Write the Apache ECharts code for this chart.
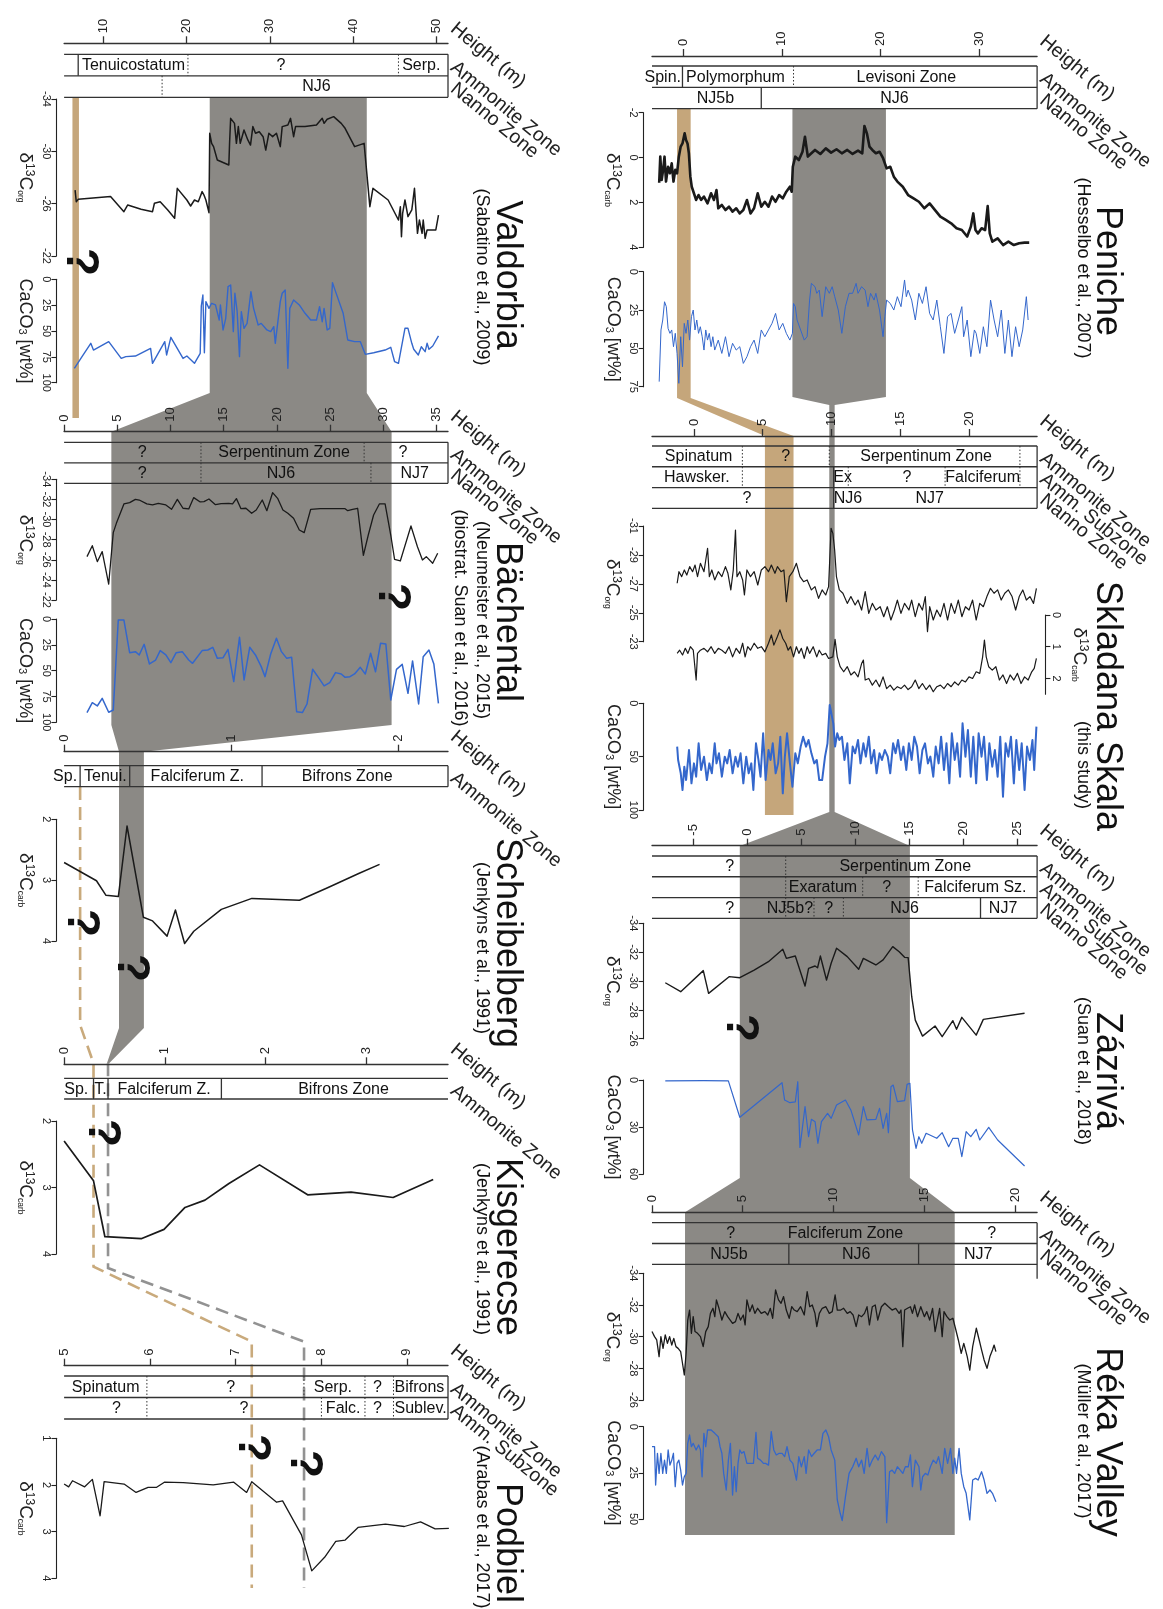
<!DOCTYPE html>
<html><head><meta charset="utf-8">
<script src="https://cdn.jsdelivr.net/npm/echarts@6/dist/echarts.min.js"></script>
<style>html,body{margin:0;padding:0;background:#fff}#c{width:1163px;height:1609px}</style>
</head><body><div id="c"></div>
<script>
// ================= DATA (heights in m, values in permil or wt%) =================
const penicheHeightTicks=[0,10,20,30];
const skladanaHeightTicks=[0,5,10,15,20];
const zazrivaHeightTicks=[-5,0,5,10,15,20,25];
const rekaHeightTicks=[0,5,10,15,20];
const valdorbiaHeightTicks=[10,20,30,40,50];
const bachentalHeightTicks=[0,5,10,15,20,25,30,35];
const scheibelbergHeightTicks=[0,1,2];
const kisgerecseHeightTicks=[0,1,2,3];
const podbielHeightTicks=[5,6,7,8,9];

const penicheD13CTicks=[-2,0,2,4];
const penicheCaCO3Ticks=[0,25,50,75];
const skladanaD13CorgTicks=[-31,-29,-27,-25,-23];
const skladanaD13CcarbTicks=[0,1,2];
const skladanaCaCO3Ticks=[0,50,100];
const zazrivaD13CTicks=[-34,-32,-30,-28,-26];
const zazrivaCaCO3Ticks=[0,30,60];
const rekaD13CTicks=[-34,-32,-30,-28,-26];
const rekaCaCO3Ticks=[0,25,50];
const valdorbiaD13CTicks=[-34,-30,-26,-22];
const valdorbiaCaCO3Ticks=[0,25,50,75,100];
const bachentalD13CTicks=[-34,-32,-30,-28,-26,-24,-22];
const bachentalCaCO3Ticks=[0,25,50,75,100];
const scheibelbergD13CTicks=[2,3,4];
const kisgerecseD13CTicks=[2,3,4];
const podbielD13CTicks=[1,2,3,4];

const penicheD13C=[[-2.43,1.12],[-2.32,-0.04],[-2.18,1.00],[-2.03,0.55],[-1.89,-0.04],[-1.74,1.07],[-1.53,0.41],[-1.34,0.70],[-1.16,0.26],[-0.98,1.07],[-0.80,0.55],[-0.62,0.70],[-0.44,-0.04],[-0.25,-0.49],[-0.07,-0.63],[0.15,-1.08],[0.29,-0.78],[0.44,-0.63],[0.58,-0.19],[0.73,0.85],[0.87,1.30],[1.09,1.59],[1.31,1.89],[1.56,1.67],[1.82,1.89],[2.11,1.74],[2.47,2.04],[2.83,1.59],[3.12,1.89],[3.38,1.45],[3.56,2.26],[3.92,2.11],[4.29,2.34],[4.65,2.19],[5.01,2.41],[5.38,2.26],[5.74,2.49],[6.10,2.34],[6.47,1.89],[6.83,2.49],[7.19,2.26],[7.56,1.59],[7.92,2.19],[8.28,1.97],[8.65,2.19],[9.01,1.74],[9.37,1.97],[9.73,1.67],[10.10,1.82],[10.46,1.52],[10.82,1.30],[11.01,1.52],[11.12,0.41],[11.37,-0.04],[11.73,0.11],[12.10,-0.26],[12.35,-0.93],[12.64,-0.04],[13.00,-0.19],[13.37,-0.34],[13.91,-0.16],[14.46,-0.41],[15.00,-0.22],[15.55,-0.37],[16.09,-0.19],[16.64,-0.34],[17.18,-0.16],[17.73,-0.31],[18.16,-0.19],[18.38,-1.41],[18.63,-1.08],[18.89,-0.49],[19.18,-0.34],[19.54,-0.19],[19.91,-0.26],[20.27,0.03],[20.63,0.48],[21.00,0.41],[21.36,0.85],[21.72,1.07],[22.27,1.30],[22.81,1.67],[23.36,1.82],[23.90,1.97],[24.45,2.26],[24.99,2.04],[25.54,2.34],[26.08,2.63],[26.63,2.78],[27.17,2.93],[27.72,3.15],[28.26,3.23],[28.80,3.52],[29.17,3.08],[29.42,2.49],[29.64,3.23],[29.89,3.38],[30.26,3.15],[30.62,3.23],[30.88,2.16],[31.09,3.38],[31.35,3.75],[31.89,3.60],[32.44,3.90],[32.98,3.75],[33.53,3.90],[34.07,3.82],[34.62,3.79],[35.09,3.79]];

const penicheCaCO3=[[-2.43,71.7],[-2.25,38.0],[-2.07,31.5],[-1.89,19.6],[-1.71,22.8],[-1.53,37.0],[-1.34,40.2],[-1.16,38.0],[-0.98,48.9],[-0.80,40.2],[-0.62,53.3],[-0.44,72.8],[-0.25,42.4],[-0.07,62.0],[0.11,33.7],[0.29,40.2],[0.47,31.5],[0.65,44.6],[0.84,29.3],[1.02,25.0],[1.20,38.0],[1.38,31.5],[1.56,40.2],[1.74,35.9],[1.93,42.4],[2.11,51.1],[2.29,38.0],[2.47,44.6],[2.65,40.2],[2.83,48.9],[3.01,42.4],[3.20,51.1],[3.56,44.6],[3.92,53.3],[4.29,42.4],[4.65,55.4],[5.01,46.7],[5.38,51.1],[5.74,48.9],[6.10,59.8],[6.47,55.4],[6.83,48.9],[7.19,44.6],[7.56,53.3],[7.92,38.0],[8.28,42.4],[8.65,38.0],[9.01,33.7],[9.37,27.2],[9.73,38.0],[10.10,33.7],[10.46,40.2],[10.82,44.6],[11.08,40.2],[11.19,20.7],[11.37,22.8],[11.55,31.5],[11.91,38.0],[12.28,44.6],[12.57,42.4],[12.82,18.5],[13.00,7.6],[13.37,9.8],[13.55,14.1],[13.80,12.0],[14.09,29.3],[14.46,9.8],[14.82,14.1],[15.11,9.8],[15.37,16.3],[15.73,25.0],[16.09,40.2],[16.45,22.8],[16.82,14.1],[17.18,14.1],[17.54,7.6],[17.73,14.1],[18.09,9.8],[18.45,12.0],[18.74,22.8],[19.00,14.1],[19.36,18.5],[19.54,14.1],[19.91,25.0],[20.27,42.4],[20.45,29.3],[20.63,18.5],[21.00,20.7],[21.36,25.0],[21.72,16.3],[22.09,22.8],[22.45,5.4],[22.63,16.3],[22.81,12.0],[23.17,18.5],[23.54,31.5],[23.90,14.1],[24.26,20.7],[24.63,9.8],[24.99,27.2],[25.35,31.5],[25.72,18.5],[26.08,35.9],[26.44,53.3],[26.81,29.3],[27.17,27.2],[27.53,40.2],[27.90,31.5],[28.26,22.8],[28.44,42.4],[28.80,31.5],[29.17,55.4],[29.53,38.0],[29.71,40.2],[30.08,53.3],[30.44,35.9],[30.80,48.9],[31.17,18.5],[31.53,31.5],[31.89,42.4],[32.26,25.0],[32.62,53.3],[32.98,31.5],[33.34,55.4],[33.71,35.9],[34.07,48.9],[34.43,38.0],[34.80,16.3],[34.98,31.5]];

const skladanaD13Corg=[[-1.22,-27.04],[-1.09,-27.84],[-0.89,-27.50],[-0.70,-27.96],[-0.52,-27.61],[-0.31,-28.19],[-0.10,-27.84],[0.08,-28.30],[0.26,-27.50],[0.47,-28.42],[0.73,-27.84],[0.99,-29.46],[1.12,-27.50],[1.30,-27.96],[1.51,-27.27],[1.77,-27.84],[2.03,-27.50],[2.29,-28.19],[2.47,-27.73],[2.68,-26.58],[2.86,-27.96],[3.02,-30.72],[3.13,-27.50],[3.33,-27.84],[3.54,-27.27],[3.67,-26.23],[3.85,-27.96],[4.11,-27.50],[4.38,-27.84],[4.64,-26.92],[4.90,-27.96],[5.16,-28.19],[5.42,-27.84],[5.63,-28.30],[5.89,-27.73],[6.07,-28.19],[6.33,-27.84],[6.54,-27.96],[6.72,-25.77],[6.93,-27.50],[7.19,-27.84],[7.45,-28.42],[7.71,-27.50],[7.97,-27.15],[8.23,-27.27],[8.54,-26.58],[8.80,-26.81],[9.06,-26.00],[9.32,-26.58],[9.58,-26.23],[9.79,-26.81],[9.97,-30.84],[10.10,-30.49],[10.23,-29.34],[10.36,-27.50],[10.57,-26.58],[10.83,-26.35],[11.15,-25.65],[11.41,-26.12],[11.72,-25.54],[11.93,-25.88],[12.19,-25.19],[12.45,-26.46],[12.71,-24.96],[12.97,-25.65],[13.23,-25.19],[13.54,-25.42],[13.80,-24.73],[14.06,-25.42],[14.32,-24.50],[14.58,-25.19],[14.79,-25.88],[15.05,-24.96],[15.31,-25.65],[15.63,-25.19],[15.83,-25.88],[16.09,-24.73],[16.35,-25.65],[16.61,-25.19],[16.82,-26.12],[16.98,-23.70],[17.14,-25.42],[17.40,-24.50],[17.66,-25.19],[17.92,-24.73],[18.18,-25.65],[18.44,-24.50],[18.70,-25.65],[18.96,-24.96],[19.22,-25.88],[19.48,-24.73],[19.74,-25.42],[20.00,-25.19],[20.26,-25.88],[20.52,-24.50],[20.78,-25.65],[21.04,-25.42],[21.30,-26.12],[21.56,-26.69],[21.82,-26.35],[22.08,-26.58],[22.34,-25.88],[22.60,-26.35],[22.86,-26.58],[23.13,-26.12],[23.39,-25.19],[23.65,-26.12],[23.91,-26.58],[24.17,-25.88],[24.43,-26.12],[24.69,-25.65],[24.90,-26.69]];

const skladanaD13Ccarb=[[-1.22,1.21],[-1.04,1.11],[-0.83,1.26],[-0.63,1.05],[-0.44,1.21],[-0.26,1.00],[-0.05,1.11],[0.16,2.05],[0.26,1.21],[0.47,1.11],[0.73,1.05],[0.99,1.16],[1.25,1.00],[1.51,1.21],[1.77,1.05],[2.03,1.11],[2.29,1.21],[2.55,1.00],[2.81,1.32],[3.07,1.05],[3.33,1.21],[3.54,0.89],[3.72,1.32],[3.91,1.00],[4.11,1.11],[4.38,0.89],[4.64,1.05],[4.90,1.00],[5.16,1.16],[5.42,0.89],[5.63,0.63],[5.81,0.95],[6.07,0.68],[6.25,0.47],[6.46,0.74],[6.67,0.89],[6.85,1.11],[7.03,1.00],[7.24,1.32],[7.45,1.00],[7.63,1.21],[7.81,1.05],[8.02,1.37],[8.23,1.00],[8.41,1.21],[8.67,1.00],[8.93,1.32],[9.11,1.11],[9.32,1.26],[9.58,1.21],[9.79,1.37],[10.10,1.32],[10.26,0.77],[10.42,1.32],[10.63,1.63],[10.89,1.79],[11.15,1.63],[11.41,1.89],[11.67,1.79],[11.93,1.95],[12.19,1.53],[12.32,1.42],[12.45,2.05],[12.71,2.00],[12.97,2.21],[13.23,2.05],[13.49,2.26],[13.75,1.95],[14.01,2.32],[14.27,2.21],[14.53,2.37],[14.79,2.26],[15.05,2.32],[15.31,2.21],[15.57,2.35],[15.83,2.26],[16.09,2.05],[16.35,2.32],[16.61,2.16],[16.88,2.35],[17.14,2.21],[17.40,2.42],[17.66,2.26],[17.92,2.21],[18.18,2.32],[18.44,2.16],[18.70,2.26],[18.96,2.11],[19.22,2.21],[19.48,2.05],[19.74,2.11],[20.00,1.95],[20.26,2.00],[20.52,1.79],[20.78,1.84],[20.99,1.32],[21.12,0.79],[21.25,1.32],[21.43,1.63],[21.69,1.74],[21.95,1.63],[22.21,2.05],[22.47,1.89],[22.73,2.16],[22.99,1.89],[23.26,2.05],[23.52,1.84],[23.78,2.16],[24.04,1.95],[24.30,2.05],[24.56,1.79],[24.74,1.68],[24.90,1.37]];

const skladanaCaCO3=[[-1.22,40.6],[-1.15,53.1],[-0.96,65.6],[-0.83,81.3],[-0.70,59.4],[-0.57,71.9],[-0.36,43.8],[-0.18,75.0],[0.00,56.3],[0.16,68.8],[0.34,37.5],[0.52,62.5],[0.73,50.0],[0.94,71.9],[1.12,56.3],[1.30,65.6],[1.51,37.5],[1.64,56.3],[1.82,46.9],[2.03,68.8],[2.24,50.0],[2.42,56.3],[2.60,43.8],[2.81,65.6],[3.02,50.0],[3.20,59.4],[3.39,46.9],[3.59,75.0],[3.80,50.0],[3.98,65.6],[4.17,56.3],[4.32,81.3],[4.51,37.5],[4.69,53.1],[4.84,68.8],[5.03,28.1],[5.21,71.9],[5.42,43.8],[5.57,53.1],[5.73,37.5],[5.94,65.6],[6.12,56.3],[6.28,31.3],[6.46,84.4],[6.61,50.0],[6.77,28.1],[6.98,56.3],[7.16,78.1],[7.37,46.9],[7.55,56.3],[7.76,40.6],[7.94,31.3],[8.15,40.6],[8.33,34.4],[8.54,46.9],[8.75,56.3],[8.93,53.1],[9.11,71.9],[9.32,71.9],[9.53,50.0],[9.71,37.5],[9.87,1.6],[10.00,0.0],[10.13,18.8],[10.26,40.6],[10.42,28.1],[10.57,34.4],[10.76,31.3],[10.94,53.1],[11.15,37.5],[11.33,75.0],[11.54,40.6],[11.72,46.9],[11.93,34.4],[12.11,56.3],[12.32,37.5],[12.50,50.0],[12.71,31.3],[12.89,56.3],[13.10,43.8],[13.28,65.6],[13.49,46.9],[13.67,53.1],[13.88,43.8],[14.09,50.0],[14.27,65.6],[14.48,37.5],[14.66,46.9],[14.84,34.4],[15.05,53.1],[15.23,40.6],[15.44,62.5],[15.63,37.5],[15.83,53.1],[16.02,31.3],[16.22,40.6],[16.41,65.6],[16.61,43.8],[16.80,37.5],[17.01,56.3],[17.19,50.0],[17.40,68.8],[17.58,40.6],[17.79,56.3],[17.97,31.3],[18.18,62.5],[18.36,37.5],[18.57,75.0],[18.75,28.1],[18.96,53.1],[19.14,37.5],[19.35,68.8],[19.53,18.8],[19.74,50.0],[19.92,25.0],[20.13,68.8],[20.31,31.3],[20.52,75.0],[20.70,28.1],[20.91,50.0],[21.09,31.3],[21.30,71.9],[21.48,37.5],[21.69,59.4],[21.88,43.8],[22.08,68.8],[22.27,31.3],[22.47,87.5],[22.66,37.5],[22.86,50.0],[23.05,31.3],[23.26,75.0],[23.44,34.4],[23.65,62.5],[23.83,37.5],[24.04,81.3],[24.22,40.6],[24.43,53.1],[24.61,34.4],[24.74,62.5],[24.90,21.9]];

const zazrivaD13C=[[-7.63,-29.88],[-6.20,-29.26],[-4.11,-30.72],[-3.62,-29.14],[-1.72,-30.30],[-0.73,-30.23],[0.60,-30.76],[1.92,-31.34],[3.25,-32.20],[3.58,-31.57],[4.41,-31.73],[5.31,-29.65],[5.64,-30.88],[6.24,-31.04],[6.47,-30.92],[6.73,-31.73],[7.30,-30.07],[7.73,-31.23],[8.23,-32.27],[9.22,-31.69],[10.28,-30.81],[10.71,-31.57],[11.87,-31.11],[12.54,-31.46],[13.43,-32.38],[14.03,-32.03],[14.53,-31.64],[14.86,-31.62],[15.19,-28.91],[15.52,-27.29],[16.19,-26.18],[17.35,-26.88],[18.01,-26.14],[19.00,-27.25],[19.34,-26.65],[19.83,-27.48],[21.16,-26.25],[21.82,-27.34],[25.64,-27.76]];

const zazrivaCaCO3=[[-7.63,0.6],[-4.05,0.4],[-1.79,0.6],[-0.73,23.8],[3.18,1.7],[3.42,12.8],[3.91,14.5],[4.41,14.0],[4.64,1.1],[4.84,43.0],[5.31,17.0],[5.64,36.2],[5.90,25.1],[6.24,26.6],[6.50,40.4],[6.83,26.6],[7.40,21.3],[7.73,24.5],[8.23,16.0],[9.05,12.8],[9.55,19.1],[10.28,35.1],[10.71,17.0],[11.04,25.5],[11.87,25.1],[12.21,18.1],[12.54,30.9],[12.87,21.3],[13.03,33.6],[13.27,4.3],[13.47,3.2],[13.86,13.8],[14.53,13.2],[14.76,2.8],[15.02,2.1],[15.26,31.9],[15.59,43.6],[15.85,36.2],[16.12,40.4],[16.52,34.0],[17.51,37.2],[18.01,33.6],[18.61,42.6],[19.00,37.2],[19.50,37.2],[19.83,48.9],[20.23,33.0],[20.66,36.2],[21.16,31.5],[21.49,38.3],[22.32,30.2],[23.15,38.3],[25.64,54.9]];

const rekaD13C=[[0.00,-30.32],[0.14,-30.00],[0.26,-29.79],[0.39,-28.74],[0.49,-30.00],[0.61,-29.26],[0.73,-30.11],[0.85,-29.58],[0.97,-30.00],[1.09,-29.47],[1.20,-29.89],[1.32,-29.37],[1.44,-29.26],[1.58,-29.05],[1.68,-28.32],[1.78,-27.58],[1.88,-28.95],[1.97,-31.05],[2.07,-31.68],[2.17,-30.21],[2.27,-31.26],[2.37,-30.32],[2.51,-30.21],[2.67,-30.00],[2.82,-29.37],[2.96,-30.32],[3.10,-30.63],[3.22,-31.47],[3.36,-31.79],[3.46,-31.26],[3.55,-32.32],[3.69,-31.79],[3.85,-31.05],[4.01,-31.58],[4.17,-31.26],[4.28,-31.37],[4.44,-30.84],[4.60,-30.95],[4.74,-31.47],[4.88,-31.05],[5.03,-31.37],[5.13,-30.74],[5.23,-32.32],[5.39,-31.58],[5.53,-32.00],[5.67,-31.47],[5.82,-31.79],[6.02,-31.47],[6.22,-31.58],[6.38,-31.37],[6.52,-31.79],[6.65,-31.16],[6.81,-32.95],[6.97,-32.32],[7.11,-32.11],[7.25,-32.53],[7.40,-31.68],[7.56,-31.16],[7.70,-31.89],[7.84,-31.68],[8.00,-31.58],[8.19,-31.89],[8.39,-31.37],[8.55,-32.84],[8.69,-31.89],[8.83,-32.00],[8.98,-31.47],[9.08,-30.63],[9.22,-31.47],[9.38,-31.79],[9.58,-31.89],[9.77,-31.47],[9.93,-31.58],[10.09,-32.63],[10.21,-31.68],[10.40,-31.68],[10.56,-31.79],[10.76,-31.47],[10.92,-31.58],[11.08,-31.37],[11.25,-30.63],[11.39,-31.37],[11.55,-31.26],[11.71,-31.47],[11.85,-31.89],[11.98,-30.74],[12.14,-31.89],[12.30,-32.00],[12.44,-31.05],[12.64,-31.89],[12.83,-32.11],[13.03,-31.89],[13.23,-31.68],[13.43,-31.79],[13.62,-31.47],[13.72,-31.68],[13.82,-29.37],[13.92,-31.68],[14.08,-31.79],[14.24,-31.89],[14.35,-31.47],[14.47,-32.00],[14.63,-31.26],[14.81,-31.89],[15.01,-31.26],[15.14,-31.58],[15.30,-31.05],[15.46,-31.79],[15.60,-30.32],[15.70,-30.42],[15.85,-31.79],[15.99,-30.00],[16.09,-31.58],[16.25,-31.26],[16.41,-31.05],[16.58,-31.16],[16.72,-30.53],[16.88,-29.79],[17.04,-28.95],[17.18,-29.58],[17.37,-28.74],[17.51,-27.89],[17.67,-29.37],[17.87,-30.53],[18.03,-29.79],[18.16,-29.16],[18.30,-28.53],[18.46,-28.00],[18.62,-28.74],[18.76,-29.16],[18.85,-29.47],[18.95,-29.05]];

const rekaCaCO3=[[0.00,10.8],[0.14,10.8],[0.20,31.6],[0.30,14.4],[0.39,25.3],[0.49,14.4],[0.59,25.3],[0.69,18.1],[0.79,25.3],[0.89,12.6],[0.99,20.8],[1.09,18.1],[1.18,14.4],[1.28,32.5],[1.38,19.9],[1.48,18.1],[1.58,23.5],[1.68,31.6],[1.78,27.1],[1.88,25.3],[1.97,9.0],[2.07,4.5],[2.17,10.8],[2.27,9.0],[2.43,12.6],[2.57,9.9],[2.67,12.6],[2.76,27.1],[2.86,3.6],[2.96,10.8],[3.06,1.8],[3.26,1.8],[3.46,3.6],[3.55,2.7],[3.65,5.4],[3.75,10.8],[3.85,14.4],[3.95,25.3],[4.09,34.3],[4.21,18.1],[4.32,9.0],[4.44,37.0],[4.54,21.7],[4.64,35.2],[4.74,19.9],[4.84,12.6],[4.94,14.4],[5.07,13.5],[5.23,19.9],[5.43,19.9],[5.59,19.9],[5.73,3.1],[5.82,17.1],[5.98,18.1],[6.14,19.9],[6.26,19.9],[6.42,20.8],[6.57,2.7],[6.71,12.6],[6.85,15.3],[7.01,14.4],[7.17,14.4],[7.31,16.2],[7.44,10.8],[7.60,18.1],[7.76,19.9],[7.96,28.9],[8.09,16.2],[8.23,21.7],[8.39,16.2],[8.49,25.3],[8.63,12.6],[8.79,16.2],[8.94,14.4],[9.10,12.6],[9.28,12.6],[9.42,3.6],[9.58,1.8],[9.73,5.4],[9.87,12.6],[10.07,18.1],[10.21,39.7],[10.37,46.9],[10.48,50.9],[10.66,37.9],[10.86,25.3],[11.06,21.7],[11.25,17.1],[11.39,21.7],[11.55,18.1],[11.69,25.3],[11.85,11.7],[11.98,21.7],[12.14,18.1],[12.30,15.3],[12.46,18.1],[12.64,13.5],[12.83,16.2],[12.93,52.0],[13.09,24.4],[13.23,23.5],[13.37,25.3],[13.52,21.7],[13.68,23.5],[13.82,25.3],[13.96,21.7],[14.12,21.7],[14.24,15.3],[14.35,32.5],[14.51,18.1],[14.71,21.7],[14.81,34.3],[14.91,27.1],[15.06,25.3],[15.20,26.2],[15.34,21.7],[15.50,18.1],[15.66,19.9],[15.79,16.2],[15.99,25.3],[16.13,11.7],[16.29,19.9],[16.45,11.7],[16.58,25.3],[16.68,17.1],[16.78,25.3],[16.92,11.7],[17.04,25.3],[17.18,32.5],[17.31,36.1],[17.51,50.5],[17.67,28.9],[17.83,28.0],[17.97,28.9],[18.16,24.4],[18.30,28.9],[18.46,36.1],[18.62,34.3],[18.76,36.1],[18.95,40.6]];

const valdorbiaD13C=[[6.66,-27.04],[6.80,-26.15],[7.03,-26.33],[10.91,-26.54],[12.51,-25.39],[12.97,-25.90],[14.57,-25.57],[15.94,-25.39],[16.17,-26.03],[16.86,-26.15],[17.77,-25.52],[18.59,-24.88],[18.91,-27.17],[20.06,-26.28],[20.51,-25.82],[20.97,-26.28],[21.43,-26.15],[21.89,-26.92],[22.11,-26.66],[22.34,-26.28],[22.71,-25.31],[22.80,-31.38],[23.03,-30.61],[23.26,-30.36],[23.71,-29.34],[25.09,-28.96],[25.18,-30.61],[25.31,-32.52],[25.77,-32.14],[26.00,-30.61],[26.23,-31.89],[26.46,-30.61],[26.91,-31.63],[27.37,-30.87],[27.69,-30.48],[27.97,-31.89],[28.29,-31.38],[28.74,-31.50],[29.20,-31.12],[29.52,-30.10],[29.89,-31.38],[30.34,-31.12],[30.80,-31.38],[31.26,-30.36],[31.49,-31.89],[32.17,-32.01],[32.49,-32.52],[32.86,-31.12],[33.09,-31.89],[34.23,-31.89],[35.60,-32.01],[36.29,-32.52],[36.51,-32.14],[36.88,-32.45],[37.66,-32.65],[38.57,-32.14],[39.03,-31.76],[40.17,-30.36],[41.31,-30.61],[42.00,-25.77],[42.37,-27.17],[44.19,-26.28],[45.43,-24.75],[45.66,-25.77],[45.79,-23.48],[45.93,-25.26],[46.21,-26.28],[46.57,-25.01],[47.03,-25.52],[47.35,-27.17],[47.71,-23.73],[47.94,-24.75],[48.26,-23.73],[48.40,-24.75],[48.63,-23.35],[48.86,-23.99],[49.91,-23.99],[50.23,-25.13]];

const valdorbiaCaCO3=[[6.57,86.1],[7.49,74.8],[8.54,61.9],[8.86,68.4],[10.69,60.3],[12.19,76.5],[12.74,74.8],[13.89,74.2],[15.71,66.8],[15.94,81.3],[17.41,60.3],[17.63,73.2],[18.14,56.1],[19.60,76.5],[20.06,74.2],[20.97,81.3],[21.66,71.6],[21.79,25.8],[21.98,15.2],[22.16,71.0],[22.34,21.6],[22.71,28.1],[23.03,23.2],[23.49,24.8],[23.94,39.4],[24.08,24.8],[24.40,49.0],[24.72,37.7],[25.00,7.1],[25.31,5.5],[25.63,50.6],[25.82,13.5],[26.09,31.3],[26.37,74.8],[26.59,31.3],[26.91,47.4],[27.28,42.6],[27.74,11.9],[28.06,28.1],[28.61,44.2],[28.97,42.6],[29.66,49.0],[30.11,50.6],[30.48,45.8],[30.66,61.9],[31.26,21.6],[31.49,13.5],[31.85,10.3],[32.17,86.1],[32.40,28.1],[32.86,20.0],[33.54,24.8],[34.23,32.9],[34.91,39.4],[35.60,39.4],[35.97,26.5],[36.29,41.0],[36.51,28.1],[36.88,49.0],[37.20,47.4],[37.52,3.2],[37.89,11.9],[38.80,32.9],[39.35,58.7],[40.17,60.3],[40.86,60.3],[41.45,72.6],[42.46,71.0],[43.83,68.4],[44.51,65.8],[44.97,79.7],[45.43,81.3],[46.21,47.4],[46.57,47.4],[47.03,61.9],[47.26,67.7],[47.49,65.8],[47.81,73.2],[48.17,65.2],[48.63,70.0],[48.86,61.9],[49.09,67.7],[49.54,64.5],[50.23,54.8]];

const bachentalD13C=[[2.15,-26.31],[2.65,-27.40],[3.12,-25.81],[3.58,-26.81],[4.19,-23.59],[4.62,-28.70],[4.91,-29.62],[5.62,-31.55],[6.16,-31.68],[6.70,-32.01],[7.06,-31.94],[7.77,-31.55],[8.31,-31.45],[8.85,-31.61],[9.56,-31.45],[10.10,-31.02],[10.64,-32.01],[11.17,-31.12],[11.71,-31.05],[12.18,-32.18],[12.79,-31.75],[13.14,-31.78],[13.61,-32.04],[14.22,-31.48],[14.76,-31.58],[15.47,-31.61],[15.83,-31.55],[16.19,-32.08],[16.62,-31.08],[17.08,-31.12],[17.62,-30.62],[18.05,-30.95],[18.62,-31.94],[19.05,-30.88],[19.59,-32.67],[20.06,-32.11],[20.56,-30.95],[21.02,-30.62],[21.56,-30.12],[22.10,-28.96],[22.56,-28.70],[23.17,-31.02],[24.07,-31.08],[25.14,-31.08],[26.40,-31.08],[26.65,-30.88],[27.11,-31.02],[27.58,-31.12],[28.12,-26.44],[28.58,-28.46],[29.08,-30.45],[29.62,-31.55],[30.16,-31.55],[30.69,-28.46],[31.05,-26.04],[31.59,-25.88],[32.59,-29.36],[33.20,-27.30],[33.67,-25.98],[34.03,-26.31],[34.63,-25.65],[35.10,-26.64]];

const bachentalCaCO3=[[2.15,90.6],[2.65,81.0],[3.12,84.2],[3.58,76.8],[4.19,90.3],[4.62,88.1],[5.09,1.0],[5.62,1.0],[6.16,32.6],[6.70,31.6],[7.06,34.8],[7.52,24.5],[8.02,43.5],[8.60,39.7],[9.03,30.6],[9.56,34.8],[10.03,42.3],[10.53,32.6],[11.10,31.6],[11.71,39.7],[12.07,42.9],[12.97,30.6],[13.50,30.0],[13.97,27.4],[14.40,38.1],[14.94,37.4],[15.40,29.4],[15.94,60.6],[16.48,17.7],[16.91,59.0],[17.44,27.4],[17.98,34.8],[18.52,46.1],[18.88,55.8],[19.41,33.9],[19.95,18.7],[20.42,31.6],[20.92,38.1],[21.38,37.1],[21.85,89.7],[22.39,90.6],[22.82,82.3],[23.35,48.7],[23.89,56.5],[24.43,64.8],[24.96,61.6],[25.50,51.9],[26.04,53.2],[26.40,56.5],[26.86,55.8],[27.29,53.2],[27.83,46.8],[28.30,53.2],[28.80,33.2],[29.26,51.0],[29.73,23.5],[30.23,24.2],[30.69,78.4],[31.23,48.7],[31.77,43.9],[32.31,71.9],[32.74,40.6],[33.31,82.3],[33.74,36.5],[34.28,30.0],[34.74,43.5],[35.17,81.6]];

const scheibelbergD13C=[[0,2.71],[0.194,3.01],[0.251,3.25],[0.325,3.27],[0.377,2.11],[0.475,3.61],[0.53,3.67],[0.617,3.92],[0.667,3.49],[0.722,4.04],[0.777,3.84],[0.942,3.48],[1.125,3.30],[1.41,3.33],[1.582,3.12],[1.765,2.89],[1.89,2.74]];
const kisgerecseD13C=[[0,2.30],[0.292,2.90],[0.405,3.74],[0.765,3.77],[0.992,3.63],[1.2,3.30],[1.398,3.19],[1.636,2.94],[1.939,2.66],[2.417,3.11],[2.848,3.07],[3.265,3.15],[3.663,2.88]];
const podbielD13C=[[5.0,1.98],[5.053,2.04],[5.098,1.91],[5.24,2.04],[5.33,1.88],[5.42,2.66],[5.467,1.93],[5.70,1.98],[5.84,2.16],[5.98,2.05],[6.08,2.05],[6.17,1.94],[6.39,1.95],[6.74,2.0],[6.98,1.94],[7.13,2.16],[7.19,1.93],[7.48,2.37],[7.55,2.34],[7.77,3.07],[7.89,3.84],[8.04,3.55],[8.17,3.21],[8.28,3.18],[8.43,2.91],[8.75,2.84],[8.97,2.89],[9.16,2.79],[9.33,2.94],[9.49,2.93]];

// biostratigraphic zones: boundaries [height, style], labels [height, text], one entry per row
const penicheZones=[
 {bounds:[[-0.07,'solid'],[11.19,'dotted']],labels:[[-2.07,'Spin.'],[5.30,'Polymorphum'],[22.63,'Levisoni Zone']]},
 {bounds:[[7.92,'solid']],labels:[[3.27,'NJ5b'],[21.43,'NJ6']]}];
const skladanaZones=[
 {bounds:[[3.52,'dotted'],[9.84,'dotted'],[23.70,'dotted']],labels:[[0.34,'Spinatum'],[6.67,'?'],[16.88,'Serpentinum Zone']]},
 {bounds:[[3.52,'dotted'],[10.16,'solid'],[11.22,'dotted'],[18.26,'dotted'],[23.70,'dotted']],labels:[[0.21,'Hawsker.'],[10.81,'Ex'],[15.49,'?'],[20.99,'Falciferum']]},
 {bounds:[[10.16,'solid']],labels:[[3.85,'?'],[11.2,'NJ6'],[17.14,'NJ7']]}];
const zazrivaZones=[
 {bounds:[[3.52,'dotted']],labels:[[-1.66,'?'],[14.59,'Serpentinum Zone']]},
 {bounds:[[3.52,'dotted'],[10.65,'dotted'],[15.79,'dotted']],labels:[[6.97,'Exaratum'],[12.87,'?'],[21.09,'Falciferum Sz.']]},
 {bounds:[[3.52,'dotted'],[6.14,'dotted'],[8.86,'dotted'],[21.56,'solid']],labels:[[-1.66,'?'],[3.91,'NJ5b?'],[7.50,'?'],[14.53,'NJ6'],[23.65,'NJ7']]}];
const rekaZones=[
 {bounds:[],labels:[[4.34,'?'],[10.66,'Falciferum Zone'],[18.72,'?']]},
 {bounds:[[7.54,'solid'],[14.69,'solid']],labels:[[4.24,'NJ5b'],[11.25,'NJ6'],[17.97,'NJ7']]}];
const valdorbiaZones=[
 {bounds:[[7.03,'solid'],[20.19,'dotted'],[45.43,'dotted']],labels:[[13.66,'Tenuicostatum'],[31.35,'?'],[48.17,'Serp.']]},
 {bounds:[[17.09,'dotted']],labels:[[35.6,'NJ6']]}];
const bachentalZones=[
 {bounds:[[12.86,'dotted'],[28.19,'dotted']],labels:[[7.34,'?'],[20.67,'Serpentinum Zone'],[31.84,'?']]},
 {bounds:[[12.86,'dotted'],[28.83,'dotted']],labels:[[7.34,'?'],[20.38,'NJ6'],[32.95,'NJ7']]}];
const scheibelbergZones=[
 {bounds:[[0.096,'solid'],[0.393,'solid'],[1.186,'solid']],labels:[[0.006,'Sp.'],[0.247,'Tenui.'],[0.798,'Falciferum Z.'],[1.696,'Bifrons Zone']]}];
const kisgerecseZones=[
 {bounds:[[0.292,'solid'],[0.436,'solid'],[1.561,'solid']],labels:[[0.121,'Sp.'],[0.36,'T.'],[0.992,'Falciferum Z.'],[2.773,'Bifrons Zone']]}];
const podbielZones=[
 {bounds:[[5.966,'dotted'],[7.799,'dotted'],[8.511,'dotted'],[8.844,'dotted']],labels:[[5.485,'Spinatum'],[6.944,'?'],[8.137,'Serp.'],[8.657,'?'],[9.147,'Bifrons']]},
 {bounds:[[5.966,'dotted'],[8.003,'dotted'],[8.511,'dotted'],[8.844,'dotted']],labels:[[5.61,'?'],[7.10,'?'],[8.257,'Falc.'],[8.657,'?'],[9.16,'Sublev.']]}];

// correlated intervals (height ranges, m)
const greyPeniche=[11.08,20.56], greySkladana=[9.84,10.23], greyZazriva=[-0.73,15.02], greyReka=[1.82,16.68];
const tanPeniche=[-0.62,0.76], tanSkladana=[5.16,7.24];
const greyValdorbia=[22.80,41.63], greyBachental=[4.44,30.77], greyScheibelberg=[0.329,0.478], greyKisgerecseTip=[0.425,0.447];
const tanValdorbia=[6.34,7.12];
const tanLine={scheibelberg:0.096,kisgerecse:0.292,podbiel:7.19};
const greyLine={kisgerecse:0.436,podbiel:7.80};

// ================= LAYOUT / STYLE =================
const FONT='"Liberation Sans", Arial, Helvetica, sans-serif';
const BLUE='#3467cc', GREY='#8b8985', TAN='#c5a67b', INK='#1a1a1a';
const COLS={R:{left:652,right:1037.1,axisX:643.7,titleX:1107,subX:[1083]},
            L:{left:64.1,right:448.0,axisX:56.4,titleX:507,subX:[482,460]}};
const D13='carb', ORG='org';
const SECTIONS=[
 {id:'peniche',col:'R',h:[-3.16,35.89],ticks:penicheHeightTicks,axisY:56,boxTop:66,boxBottom:108.7,zones:penicheZones,rows:['Ammonite Zone','Nanno Zone'],edge:true,
  panels:[{top:112.7,bottom:247.3,range:[-2,4],ticks:penicheD13CTicks,data:penicheD13C,color:INK,width:2.6,kind:D13},
          {top:271.7,bottom:386.7,range:[0,75],ticks:penicheCaCO3Ticks,data:penicheCaCO3,color:BLUE,width:1,kind:'caco3'}],
  title:'Peniche',subs:['(Hesselbo et al., 2007)'],titleY:271,subY:[268]},
 {id:'skladana',col:'R',h:[-3.05,24.95],ticks:skladanaHeightTicks,axisY:436,boxTop:446,boxBottom:508.3,zones:skladanaZones,rows:['Ammonite Zone','Amm. Subzone','Nanno Zone'],edge:true,
  panels:[{top:526,bottom:641.7,range:[-31,-23],ticks:skladanaD13CorgTicks,data:skladanaD13Corg,color:INK,width:1.2,kind:ORG},
          {top:615,bottom:694.3,range:[0,2.5],ticks:skladanaD13CcarbTicks,data:skladanaD13Ccarb,color:INK,width:1.2,kind:D13,side:'right'},
          {top:703.3,bottom:810,range:[0,100],ticks:skladanaCaCO3Ticks,data:skladanaCaCO3,color:BLUE,width:2,kind:'caco3'}],
  title:'Skladana Skala',subs:['(this study)'],titleY:706,subY:[765]},
 {id:'zazriva',col:'R',h:[-8.86,26.8],ticks:zazrivaHeightTicks,axisY:845.7,boxTop:856,boxBottom:918.3,zones:zazrivaZones,rows:['Ammonite Zone','Amm. Subzone','Nanno Zone'],edge:true,
  panels:[{top:923.3,bottom:1038.7,range:[-34,-26],ticks:zazrivaD13CTicks,data:zazrivaD13C,color:INK,width:1.4,kind:ORG},
          {top:1080,bottom:1174,range:[0,60],ticks:zazrivaCaCO3Ticks,data:zazrivaCaCO3,color:BLUE,width:1.2,kind:'caco3'}],
  title:'Zázrivá',subs:['(Suan et al., 2018)'],titleY:1071,subY:[1071]},
 {id:'reka',col:'R',h:[0,21.22],ticks:rekaHeightTicks,axisY:1212.3,boxTop:1222.7,boxBottom:1264.3,zones:rekaZones,rows:['Ammonite Zone','Nanno Zone'],edge:true,edgeExtra:0.7,
  panels:[{top:1273.3,bottom:1400,range:[-34,-26],ticks:rekaD13CTicks,data:rekaD13C,color:INK,width:1.3,kind:ORG},
          {top:1426.7,bottom:1519,range:[0,50],ticks:rekaCaCO3Ticks,data:rekaCaCO3,color:BLUE,width:1.3,kind:'caco3'}],
  title:'Réka Valley',subs:['(Müller et al., 2017)'],titleY:1442,subY:[1441]},
 {id:'valdorbia',col:'L',h:[5.34,51.37],ticks:valdorbiaHeightTicks,axisY:43.3,boxTop:54.3,boxBottom:97.3,zones:valdorbiaZones,rows:['Ammonite Zone','Nanno Zone'],edge:true,
  panels:[{top:99,bottom:256,range:[-34,-22],ticks:valdorbiaD13CTicks,data:valdorbiaD13C,color:INK,width:1.5,kind:ORG},
          {top:279.3,bottom:382.7,range:[0,100],ticks:valdorbiaCaCO3Ticks,data:valdorbiaCaCO3,color:BLUE,width:1.4,kind:'caco3'}],
  title:'Valdorbia',subs:['(Sabatino et al., 2009)'],titleY:275,subY:[277]},
 {id:'bachental',col:'L',h:[0,36.07],ticks:bachentalHeightTicks,axisY:431.7,boxTop:442.3,boxBottom:483.3,zones:bachentalZones,rows:['Ammonite Zone','Nanno Zone'],edge:true,
  panels:[{top:479.3,bottom:600,range:[-34,-22],ticks:bachentalD13CTicks,data:bachentalD13C,color:INK,width:1.3,kind:ORG},
          {top:619,bottom:722.3,range:[0,100],ticks:bachentalCaCO3Ticks,data:bachentalCaCO3,color:BLUE,width:1.5,kind:'caco3'}],
  title:'Bächental',subs:['(Neumeister et al., 2015)','(biostrat. Suan et al., 2016)'],titleY:622,subY:[620,618]},
 {id:'scheibelberg',col:'L',h:[0,2.30],ticks:scheibelbergHeightTicks,axisY:751.7,boxTop:765.7,boxBottom:786.7,zones:scheibelbergZones,rows:['Ammonite Zone'],edge:true,
  panels:[{top:819.3,bottom:941,range:[2,4],ticks:scheibelbergD13CTicks,data:scheibelbergD13C,color:INK,width:1.5,kind:D13}],
  title:'Scheibelberg',subs:['(Jenkyns et al., 1991)'],titleY:943,subY:[948]},
 {id:'kisgerecse',col:'L',h:[0,3.81],ticks:kisgerecseHeightTicks,axisY:1064.3,boxTop:1078.3,boxBottom:1099,zones:kisgerecseZones,rows:['Ammonite Zone'],edge:false,
  panels:[{top:1121,bottom:1254,range:[2,4],ticks:kisgerecseD13CTicks,data:kisgerecseD13C,color:INK,width:1.7,kind:D13}],
  title:'Kisgerecse',subs:['(Jenkyns et al., 1991)'],titleY:1247,subY:[1249]},
 {id:'podbiel',col:'L',h:[5,9.48],ticks:podbielHeightTicks,axisY:1365.7,boxTop:1376,boxBottom:1419,zones:podbielZones,rows:['Ammonite Zone','Amm. Subzone'],edge:true,
  panels:[{top:1438.3,bottom:1578.3,range:[1,4],ticks:podbielD13CTicks,data:podbielD13C,color:INK,width:1.3,kind:D13}],
  title:'Podbiel',subs:['(Arabas et al., 2017)'],titleY:1543,subY:[1527]}
];
const SEC={}; SECTIONS.forEach(s=>SEC[s.id]=s);

// ================= BUILD =================
function zoneSeries(sec, gi){
  const items=[{k:'frame'}];
  sec.zones.forEach((row,r)=>{
    row.bounds.forEach(b=>items.push({k:'b',h:b[0],r:r,st:b[1]}));
    row.labels.forEach(l=>items.push({k:'t',h:l[0],r:r,text:l[1]}));
  });
  const n=sec.zones.length;
  return {type:'custom',xAxisIndex:gi,yAxisIndex:gi,silent:true,clip:false,z:4,animation:false,
    data:items.map(it=>[it.h!=null?it.h:sec.h[0], it.r!=null?it.r:0]),
    renderItem:function(params,api){
      const it=items[params.dataIndex];
      const ln=(a,b,w,dash)=>({type:'line',shape:{x1:a[0],y1:a[1],x2:b[0],y2:b[1]},style:{stroke:'#333',lineWidth:w,lineDash:dash||null}});
      if(it.k==='frame'){
        const ch=[];
        for(let r=0;r<=n;r++) ch.push(ln(api.coord([sec.h[0],r]),api.coord([sec.h[1],r]),1.3));
        if(sec.edge) ch.push(ln(api.coord([sec.h[1],0]),api.coord([sec.h[1],n+(sec.edgeExtra||0)]),1.3));
        return {type:'group',children:ch};
      }
      if(it.k==='b'){
        return ln(api.coord([it.h,it.r]),api.coord([it.h,it.r+1]),it.st==='solid'?1.3:1,it.st==='dotted'?[1.5,2]:null);
      }
      const c=api.coord([it.h,it.r+0.5]);
      return {type:'text',x:c[0],y:c[1]+0.5,style:{text:it.text,fontSize:16,fontFamily:FONT,fill:'#111',align:'center',verticalAlign:'middle'}};
    }};
}

const grid=[],xAxis=[],yAxis=[],series=[];
SECTIONS.forEach(sec=>{
  const col=COLS[sec.col];
  const gi=grid.length; sec.xIdx=gi;
  grid.push({left:col.left,top:sec.boxTop,width:col.right-col.left,height:sec.boxBottom-sec.boxTop,containLabel:false,outerBoundsMode:'none'});
  xAxis.push({gridIndex:gi,type:'value',min:sec.h[0],max:sec.h[1],position:'top',offset:sec.boxTop-sec.axisY,
    axisLine:{show:true,onZero:false,lineStyle:{color:'#333',width:1.3}},
    axisTick:{show:true,inside:false,length:7,customValues:sec.ticks,lineStyle:{color:'#333',width:1.3}},
    axisLabel:{show:true,rotate:-90,margin:10,fontSize:13,fontFamily:FONT,color:'#222',customValues:sec.ticks},
    splitLine:{show:false}});
  yAxis.push({gridIndex:gi,type:'value',min:0,max:sec.zones.length,inverse:true,show:false});
  series.push(zoneSeries(sec,gi));
  sec.panels.forEach(p=>{
    const pi=grid.length; p.idx=pi;
    grid.push({left:col.left,top:p.top,width:col.right-col.left,height:p.bottom-p.top,containLabel:false,outerBoundsMode:'none'});
    xAxis.push({gridIndex:pi,type:'value',min:sec.h[0],max:sec.h[1],show:false});
    const right=p.side==='right';
    yAxis.push({gridIndex:pi,type:'value',min:p.range[0],max:p.range[1],inverse:true,position:right?'right':'left',
      offset:right?8.3:(col.left-col.axisX),
      axisLine:{show:true,onZero:false,lineStyle:{color:'#222',width:1.1}},
      axisTick:{show:true,inside:false,length:5,customValues:p.ticks,lineStyle:{color:'#222',width:1.1}},
      axisLabel:{show:true,rotate:-90,margin:5,fontSize:11,fontFamily:FONT,color:'#222',customValues:p.ticks},
      splitLine:{show:false}});
    series.push({type:'line',xAxisIndex:pi,yAxisIndex:pi,data:p.data,showSymbol:false,symbol:'none',
      lineStyle:{color:p.color,width:p.width,join:'round'},clip:false,z:5,silent:true,animation:false});
  });
});

const chart=echarts.init(document.getElementById('c'),null,{renderer:'canvas',width:1163,height:1609});
chart.setOption({animation:false,backgroundColor:'#ffffff',textStyle:{fontFamily:FONT},grid,xAxis,yAxis,series});

// ---------- overlays positioned through the section height axes ----------
const X=(id,h)=>chart.convertToPixel({xAxisIndex:SEC[id].xIdx},h);
const G=[];
G.push({type:'polygon',z:-1,silent:true,style:{fill:GREY},shape:{points:[
 [X('peniche',greyPeniche[0]),108.7],[X('peniche',greyPeniche[0]),397],[X('skladana',greySkladana[0]),405],[X('skladana',greySkladana[0]),812],
 [X('zazriva',greyZazriva[0]),846],[X('zazriva',greyZazriva[0]),1178],[X('reka',greyReka[0]),1212.3],[X('reka',greyReka[0]),1535],
 [X('reka',greyReka[1]),1535],[X('reka',greyReka[1]),1212.3],[X('zazriva',greyZazriva[1]),1178],[X('zazriva',greyZazriva[1]),846],
 [X('skladana',greySkladana[1]),812],[X('skladana',greySkladana[1]),405],[X('peniche',greyPeniche[1]),397],[X('peniche',greyPeniche[1]),108.7]]}});
G.push({type:'polygon',z:-1,silent:true,style:{fill:TAN},shape:{points:[
 [X('peniche',tanPeniche[0]),108.7],[X('peniche',tanPeniche[0]),398],[X('skladana',tanSkladana[0]),436],[X('skladana',tanSkladana[0]),815],
 [X('skladana',tanSkladana[1]),815],[X('skladana',tanSkladana[1]),436],[X('peniche',tanPeniche[1]),398],[X('peniche',tanPeniche[1]),108.7]]}});
G.push({type:'polygon',z:-1,silent:true,style:{fill:GREY},shape:{points:[
 [X('valdorbia',greyValdorbia[0]),97.3],[X('valdorbia',greyValdorbia[0]),393],[X('bachental',greyBachental[0]),431.7],[X('bachental',greyBachental[0]),725],
 [X('scheibelberg',greyScheibelberg[0]),751.7],[X('scheibelberg',greyScheibelberg[0]),1028],[X('kisgerecse',greyKisgerecseTip[0]),1063.3],
 [X('kisgerecse',greyKisgerecseTip[1]),1063.3],[X('scheibelberg',greyScheibelberg[1]),1028],[X('scheibelberg',greyScheibelberg[1]),751.7],
 [X('bachental',greyBachental[1]),725],[X('bachental',greyBachental[1]),431.7],[X('valdorbia',greyValdorbia[1]),393],[X('valdorbia',greyValdorbia[1]),97.3]]}});
G.push({type:'polygon',z:-1,silent:true,style:{fill:TAN},shape:{points:[
 [X('valdorbia',tanValdorbia[0]),97.3],[X('valdorbia',tanValdorbia[0]),418],[X('valdorbia',tanValdorbia[1]),418],[X('valdorbia',tanValdorbia[1]),97.3]]}});
G.push({type:'polyline',z:-1,silent:true,style:{stroke:'#c9aa7c',lineWidth:2.6,lineDash:[13,7],fill:null},shape:{points:[
 [X('scheibelberg',tanLine.scheibelberg),787],[X('scheibelberg',tanLine.scheibelberg),1025],[X('kisgerecse',tanLine.kisgerecse),1063.3],
 [X('kisgerecse',tanLine.kisgerecse),1266.7],[X('podbiel',tanLine.podbiel),1341.7],[X('podbiel',tanLine.podbiel),1588]]}});
G.push({type:'polyline',z:-1,silent:true,style:{stroke:'#929292',lineWidth:2.6,lineDash:[13,7],fill:null},shape:{points:[
 [X('kisgerecse',greyLine.kisgerecse),1063.3],[X('kisgerecse',greyLine.kisgerecse),1268],[X('podbiel',greyLine.podbiel),1341.7],[X('podbiel',greyLine.podbiel),1588]]}});

const QMARKS=[['valdorbia',7.26,262],['bachental',30.77,597],['scheibelberg',0.10,923],['scheibelberg',0.40,968],
 ['kisgerecse',0.375,1133],['podbiel',7.19,1448],['podbiel',7.80,1464],['zazriva',-0.73,1028]];
QMARKS.forEach(q=>G.push({type:'text',z:10,silent:true,x:X(q[0],q[1]),y:q[2],rotation:-Math.PI/2,
  style:{text:'?',fontSize:46,fontWeight:'bold',fontFamily:FONT,fill:'#111',align:'center',verticalAlign:'middle'}}));

const RICH={a:{fontSize:19,fontFamily:FONT,fill:'#222'},s:{fontSize:12,fontFamily:FONT,fill:'#222',verticalAlign:'top'},
  b:{fontSize:8.5,fontFamily:FONT,fill:'#222',verticalAlign:'bottom'},c:{fontSize:18,fontFamily:FONT,fill:'#222'},
  t:{fontSize:11,fontFamily:FONT,fill:'#222',verticalAlign:'bottom'}};
SECTIONS.forEach(sec=>{
  const col=COLS[sec.col];
  G.push({type:'text',z:10,silent:true,x:col.titleX,y:sec.titleY,rotation:-Math.PI/2,
    style:{text:sec.title,fontSize:36,fontFamily:FONT,fill:'#111',align:'center',verticalAlign:'middle'}});
  sec.subs.forEach((s,i)=>G.push({type:'text',z:10,silent:true,x:col.subX[i],y:sec.subY[i],rotation:-Math.PI/2,
    style:{text:s,fontSize:18,fontFamily:FONT,fill:'#111',align:'center',verticalAlign:'middle'}}));
  const rowH=(sec.boxBottom-sec.boxTop)/sec.rows.length;
  const labs=[['Height (m)',sec.axisY-17]].concat(sec.rows.map((r,i)=>[r,sec.boxTop+rowH*(i+0.5)]));
  labs.forEach(l=>G.push({type:'text',z:10,silent:true,x:col.right+5,y:l[1],rotation:-0.69,
    style:{text:l[0],fontSize:19.5,fontFamily:FONT,fill:'#222',align:'left',verticalAlign:'middle'}}));
  sec.panels.forEach(p=>{
    const right=p.side==='right';
    const x=right?col.right+8.3+34:col.axisX-31;
    const txt=p.kind==='caco3'?'{c|CaCO}{t|3}{c| [wt%]}':'{a|δ}{s|13}{a|C}{b|'+p.kind+'}';
    G.push({type:'text',z:10,silent:true,x:x,y:(p.top+p.bottom)/2,rotation:-Math.PI/2,
      style:{text:txt,rich:RICH,align:'center',verticalAlign:'middle'}});
  });
});
chart.setOption({graphic:{elements:G}});
</script></body></html>
